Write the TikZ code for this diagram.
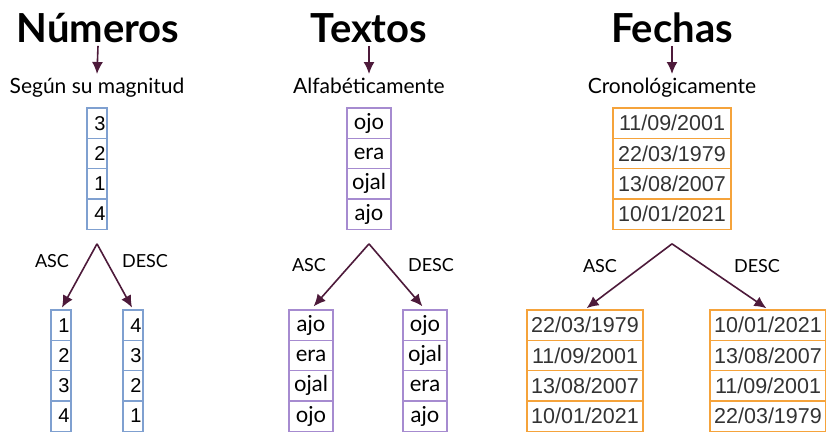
\documentclass[tikz,border=0pt]{standalone}
\usepackage{fontspec}
\setmainfont{Lato}
\newfontfamily\arial{Liberation Sans}
\usetikzlibrary{arrows.meta,positioning}
\definecolor{ciruela}{HTML}{4D1A3A}
\definecolor{azulc}{HTML}{7FA0D0}
\definecolor{lilac}{HTML}{A68BD0}
\definecolor{naranja}{HTML}{F5A33B}
\tikzset{>={Latex[length=12pt,width=11pt]}}
\tikzset{
  flecha/.style={->,ciruela,line width=1.6pt},
  titulo/.style={font=\fontsize{40}{42}\selectfont\bfseries,anchor=base},
  criterio/.style={font=\fontsize{21}{23}\selectfont,anchor=base},
  orden/.style={font=\fontsize{18}{20}\selectfont},
  celda/.style={draw,line width=1.3pt,minimum height=30.3pt,inner sep=0pt},
  celdanum/.style={celda,azulc,text=black,font=\arial\fontsize{20}{22}\selectfont,
    text width=17pt,align=right,minimum width=20pt},
  celdatxt/.style={celda,lilac,text=black,font=\fontsize{22}{24}\selectfont,minimum width=44pt},
  celdafecha/.style={celda,naranja,text=black!80,font=\arial\fontsize{21.5}{23}\selectfont,minimum width=#1},
}

\begin{document}
\begin{tikzpicture}[x=1pt,y=1pt]
  \useasboundingbox (0,0) rectangle (826,-432);

  % Numeros
  \node[titulo] (titnum) at (98,-42) {Números};
  \node[criterio] (critnum) at (97,-93) {Según su magnitud};
  \draw[flecha] (titnum.south) -- (critnum.north);
  \foreach \v [count=\i] in {3,2,1,4}
    \node[celdanum] (num\i) at (97,{-108-(\i-0.5)*30.3}) {\v};
  \foreach \v [count=\i] in {1,2,3,4}
    \node[celdanum] (numasc\i) at (61,{-310-(\i-0.5)*30.3}) {\v};
  \foreach \v [count=\i] in {4,3,2,1}
    \node[celdanum] (numdesc\i) at (133,{-310-(\i-0.5)*30.3}) {\v};
  \coordinate[below=14pt of num4] (vnum);
  \draw[flecha,shorten >=2pt] (vnum) -- (numasc1.north);
  \draw[flecha,shorten >=2pt] (vnum) -- (numdesc1.north);
  \node[orden] (ascnum) at (52,-261) {ASC};
  \node[orden] (descnum) at (145,-261) {DESC};

  % Textos
  \node[titulo] (tittxt) at (369,-42) {Textos};
  \node[criterio] (crittxt) at (369,-93) {Alfabéticamente};
  \draw[flecha] (tittxt.south) -- (crittxt.north);
  \foreach \v [count=\i] in {ojo,era,ojal,ajo}
    \node[celdatxt] (txt\i) at (369,{-108-(\i-0.5)*30.3}) {\v};
  \foreach \v [count=\i] in {ajo,era,ojal,ojo}
    \node[celdatxt] (txtasc\i) at (311,{-310-(\i-0.5)*30.3}) {\v};
  \foreach \v [count=\i] in {ojo,ojal,era,ajo}
    \node[celdatxt] (txtdesc\i) at (425,{-310-(\i-0.5)*30.3}) {\v};
  \coordinate[below=14pt of txt4] (vtxt);
  \draw[flecha,shorten >=4pt] (vtxt) -- (txtasc1.north);
  \draw[flecha,shorten >=4pt] (vtxt) -- (txtdesc1.north);
  \node[orden] (asctxt) at (309,-265) {ASC};
  \node[orden] (desctxt) at (431,-265) {DESC};

  % Fechas
  \node[titulo] (titfecha) at (672,-42) {Fechas};
  \node[criterio] (critfecha) at (672,-93) {Cronológicamente};
  \draw[flecha] (titfecha.south) -- (critfecha.north);
  \foreach \v [count=\i] in {11/09/2001,22/03/1979,13/08/2007,10/01/2021}
    \node[celdafecha=118pt] (fecha\i) at (672,{-108-(\i-0.5)*30.3}) {\v};
  \foreach \v [count=\i] in {22/03/1979,11/09/2001,13/08/2007,10/01/2021}
    \node[celdafecha=116pt] (fechaasc\i) at (585,{-310-(\i-0.5)*30.3}) {\v};
  \foreach \v [count=\i] in {10/01/2021,13/08/2007,11/09/2001,22/03/1979}
    \node[celdafecha=116pt] (fechadesc\i) at (768,{-310-(\i-0.5)*30.3}) {\v};
  \coordinate[below=14pt of fecha4] (vfecha);
  \draw[flecha,shorten >=2pt] (vfecha) -- (fechaasc1.north);
  \draw[flecha,shorten >=2pt] (vfecha) -- (fechadesc1.north);
  \node[orden] (ascfecha) at (600,-266) {ASC};
  \node[orden] (descfecha) at (757,-266) {DESC};

\end{tikzpicture}
\end{document}
